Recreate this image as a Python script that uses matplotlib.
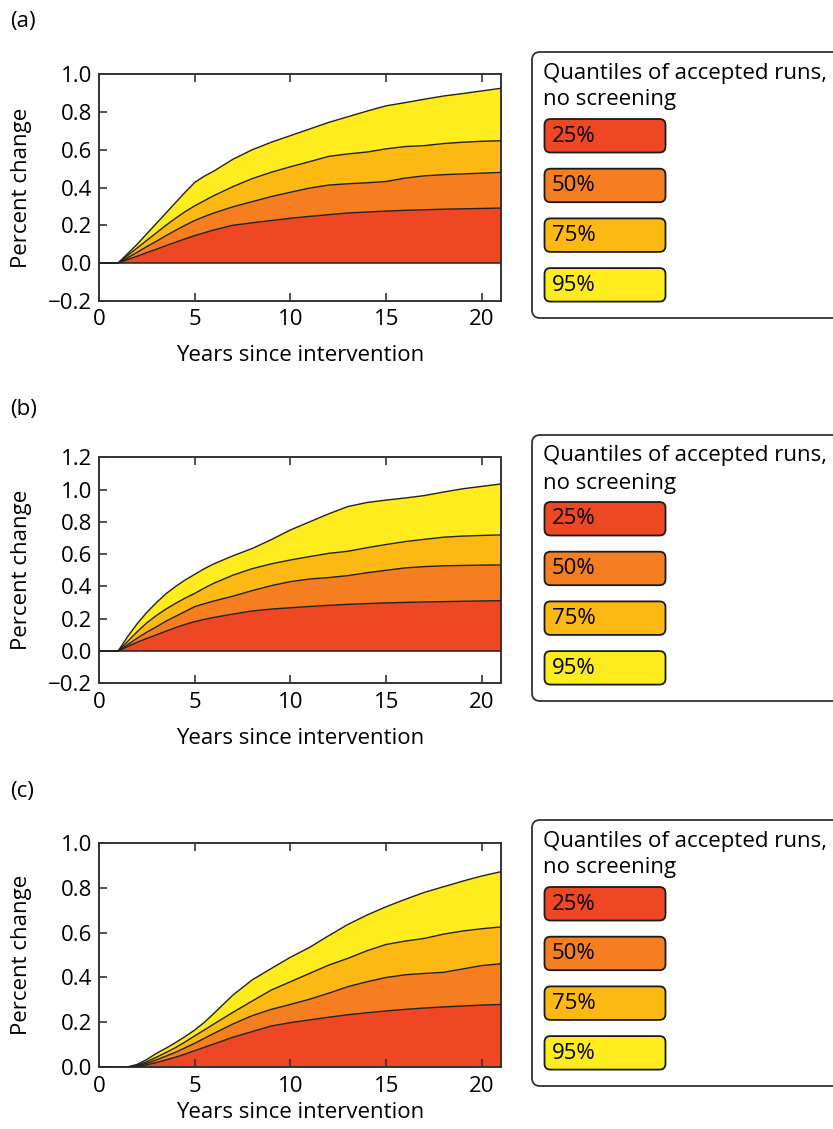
import matplotlib
matplotlib.use("Agg")
import matplotlib.pyplot as plt
from matplotlib.patches import FancyBboxPatch
import numpy as np

plt.rcParams['font.family'] = ['Open Sans', 'DejaVu Sans']

years = [0, 1, 1.5, 2, 2.5, 3, 3.5, 4, 4.5, 5, 5.5, 6, 7, 8, 9, 10, 11, 12, 13, 14, 15, 16, 17, 18, 19, 20, 21]

# Panel (a)
a_q25 = [0, 0, 0.018, 0.036, 0.055, 0.073, 0.092, 0.110, 0.128, 0.145, 0.160, 0.175, 0.200, 0.213, 0.225, 0.237, 0.247, 0.256, 0.265, 0.270, 0.275, 0.279, 0.282, 0.285, 0.287, 0.289, 0.291]
a_q50 = [0, 0, 0.028, 0.057, 0.087, 0.115, 0.145, 0.173, 0.200, 0.225, 0.246, 0.265, 0.298, 0.325, 0.352, 0.375, 0.397, 0.413, 0.420, 0.425, 0.432, 0.450, 0.462, 0.468, 0.472, 0.476, 0.480]
a_q75 = [0, 0, 0.040, 0.080, 0.120, 0.160, 0.200, 0.237, 0.272, 0.303, 0.330, 0.357, 0.405, 0.447, 0.481, 0.510, 0.537, 0.565, 0.578, 0.588, 0.605, 0.617, 0.622, 0.633, 0.640, 0.645, 0.648]
a_q95 = [0, 0, 0.050, 0.100, 0.155, 0.210, 0.265, 0.320, 0.375, 0.427, 0.460, 0.487, 0.550, 0.600, 0.640, 0.675, 0.710, 0.745, 0.775, 0.805, 0.833, 0.850, 0.868, 0.885, 0.898, 0.912, 0.926]

# Panel (b)
b_q25 = [0, 0, 0.028, 0.055, 0.078, 0.100, 0.123, 0.145, 0.165, 0.182, 0.196, 0.208, 0.229, 0.248, 0.260, 0.268, 0.276, 0.283, 0.289, 0.294, 0.298, 0.301, 0.304, 0.306, 0.308, 0.310, 0.312]
b_q50 = [0, 0, 0.040, 0.080, 0.117, 0.150, 0.185, 0.215, 0.245, 0.275, 0.293, 0.310, 0.340, 0.374, 0.405, 0.430, 0.446, 0.455, 0.467, 0.485, 0.500, 0.515, 0.523, 0.528, 0.530, 0.532, 0.533]
b_q75 = [0, 0, 0.060, 0.120, 0.175, 0.220, 0.260, 0.295, 0.328, 0.357, 0.390, 0.420, 0.470, 0.510, 0.540, 0.564, 0.585, 0.605, 0.618, 0.640, 0.660, 0.678, 0.692, 0.705, 0.712, 0.716, 0.719]
b_q95 = [0, 0, 0.090, 0.170, 0.240, 0.300, 0.355, 0.400, 0.440, 0.475, 0.510, 0.540, 0.590, 0.635, 0.690, 0.750, 0.800, 0.850, 0.895, 0.920, 0.935, 0.948, 0.963, 0.985, 1.005, 1.020, 1.035]

# Panel (c)
c_q25 = [0, 0, 0.0005, 0.004, 0.011, 0.021, 0.033, 0.045, 0.059, 0.074, 0.089, 0.104, 0.134, 0.159, 0.184, 0.199, 0.211, 0.223, 0.234, 0.243, 0.251, 0.258, 0.264, 0.269, 0.273, 0.277, 0.280]
c_q50 = [0, 0, 0.001, 0.007, 0.018, 0.033, 0.050, 0.067, 0.087, 0.107, 0.129, 0.151, 0.193, 0.230, 0.258, 0.280, 0.303, 0.330, 0.359, 0.381, 0.400, 0.412, 0.418, 0.423, 0.438, 0.453, 0.461]
c_q75 = [0, 0, 0.001, 0.009, 0.025, 0.045, 0.066, 0.088, 0.113, 0.140, 0.166, 0.193, 0.245, 0.295, 0.344, 0.381, 0.418, 0.455, 0.485, 0.519, 0.547, 0.562, 0.574, 0.593, 0.607, 0.617, 0.625]
c_q95 = [0, 0, 0.002, 0.013, 0.035, 0.062, 0.085, 0.110, 0.137, 0.166, 0.200, 0.240, 0.322, 0.389, 0.440, 0.490, 0.534, 0.586, 0.636, 0.678, 0.715, 0.748, 0.779, 0.804, 0.829, 0.852, 0.871]

quantile_labels = ['25%', '50%', '75%', '95%']
colors = ['#EE4723', '#F47E20', '#FDB913', '#FFEC1F']
legend_title = 'Quantiles of accepted runs,\nno screening'
panel_labels = ['(a)', '(b)', '(c)']
ylims = [(-0.2, 1.0), (-0.2, 1.2), (0.0, 1.0)]
yticks = [np.arange(-0.2, 1.01, 0.2), np.arange(-0.2, 1.21, 0.2), np.arange(0.0, 1.01, 0.2)]

panels = [
    (a_q25, a_q50, a_q75, a_q95),
    (b_q25, b_q50, b_q75, b_q95),
    (c_q25, c_q50, c_q75, c_q95),
]

W, H = 833, 1129
fig = plt.figure(figsize=(W / 100, H / 100), dpi=100)

# axes boxes in pixels: (left, top, right, bottom)
ax_px = [(99, 74.3, 501, 300.7), (99, 457.3, 501, 683.3), (99, 842.7, 501, 1067.3)]
xlabel_y = [355, 738, 1112]
legend_tops = [52, 435, 820]
label_y = [21, 409, 791]
FS = 16

def fmt(v):
    s = f"{v:.1f}"
    if s.startswith('-'):
        s = '\u2212' + s[1:]
    if s == '\u22120.0':
        s = '0.0'
    return s

for i, qs in enumerate(panels):
    l, t, r, b = ax_px[i]
    ax = fig.add_axes([l / W, 1 - b / H, (r - l) / W, (b - t) / H])
    x = np.array(years, dtype=float)
    lower = np.zeros_like(x)
    for q, c in zip(qs, colors):
        q = np.array(q)
        ax.fill_between(x, lower, q, facecolor=c, edgecolor='none', zorder=1)
        lower = q
    ax.plot(x, np.zeros_like(x), color='#222222', lw=1.1, zorder=2)
    for q in qs:
        ax.plot(x, q, color='#222222', lw=1.0, zorder=3)
    ax.set_xlim(0, 21)
    ax.set_ylim(*ylims[i])
    ax.set_xticks([0, 5, 10, 15, 20])
    ax.set_yticks(yticks[i])
    ax.set_yticklabels([fmt(v) for v in yticks[i]])
    ax.tick_params(axis='x', direction='in', top=True, bottom=True, length=6, width=1.2,
                   labelsize=FS, pad=6, color='#333333')
    ax.tick_params(axis='y', direction='in', left=True, right=False, length=6, width=1.2,
                   labelsize=FS, pad=5, color='#333333')
    for sp in ax.spines.values():
        sp.set_linewidth(1.4)
        sp.set_color('#333333')
    ax.set_xlabel('Years since intervention', fontsize=FS, va='center')
    ax.xaxis.set_label_coords(0.5, -(xlabel_y[i] - b) / (b - t))
    ax.set_ylabel('Percent change', fontsize=FS, va='center')
    ax.yaxis.set_label_coords((22 - l) / (r - l), 0.5)
    fig.text(10 / W, 1 - label_y[i] / H, panel_labels[i], fontsize=FS, ha='left', va='center')

# Legends drawn on an overlay in pixel coordinates
ov = fig.add_axes([0, 0, 1, 1])
ov.set_xlim(0, W)
ov.set_ylim(H, 0)
ov.axis('off')
ov.patch.set_visible(False)
for top in legend_tops:
    box = FancyBboxPatch((532, top), 340, 266, boxstyle='round,pad=0,rounding_size=8',
                         facecolor='white', edgecolor='#333333', lw=1.3, zorder=1)
    ov.add_patch(box)
    lines = legend_title.split('\n')
    ov.text(543, top + 21, lines[0], fontsize=FS, ha='left', va='center', zorder=3)
    ov.text(543, top + 48, lines[1], fontsize=FS, ha='left', va='center', zorder=3)
    for k, (lab, c) in enumerate(zip(quantile_labels, colors)):
        y0 = top + 67 + k * 49.7
        p = FancyBboxPatch((544.5, y0), 121, 33.5, boxstyle='round,pad=0,rounding_size=6',
                           facecolor=c, edgecolor='#1a1a1a', lw=1.3, zorder=2)
        ov.add_patch(p)
        ov.text(552, y0 + 17, lab, fontsize=FS, ha='left', va='center', zorder=3)

fig.savefig('out.png', dpi=100)
